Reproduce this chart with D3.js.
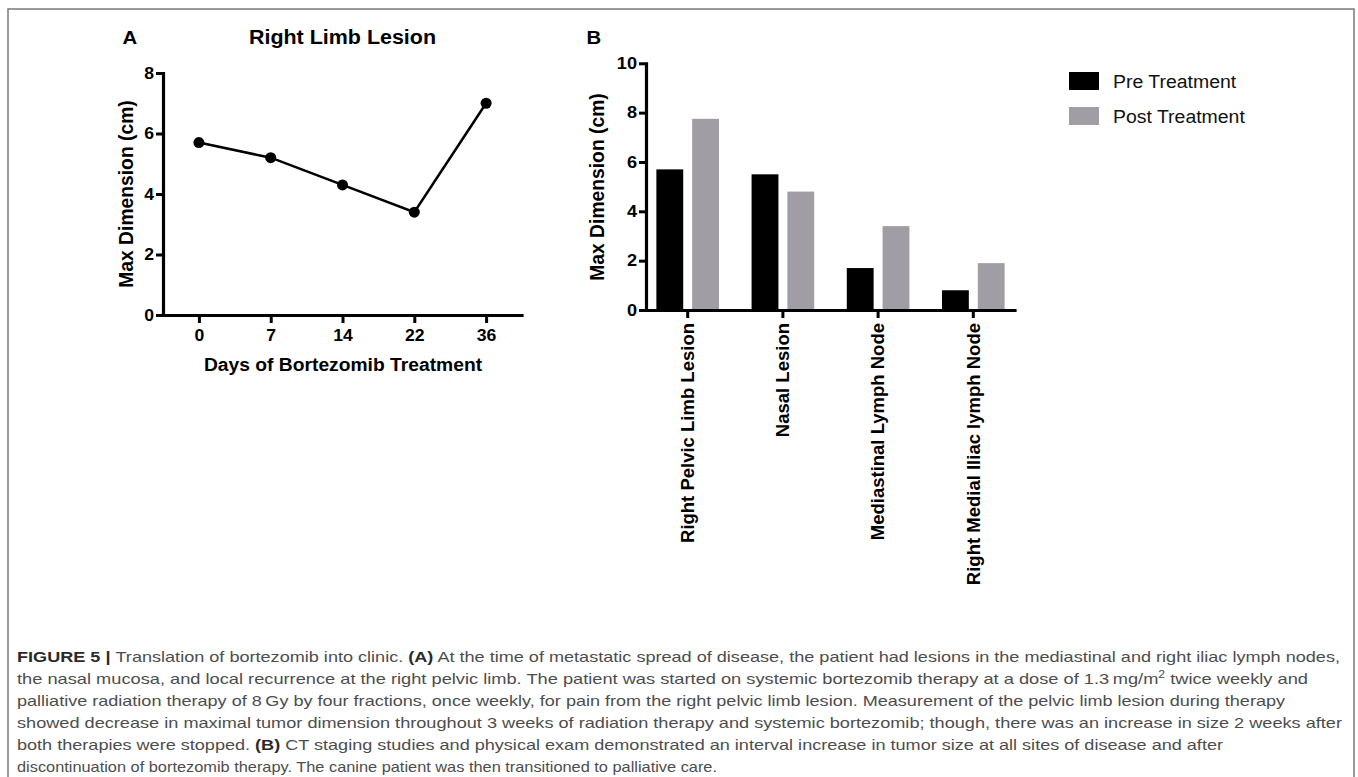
<!DOCTYPE html>
<html>
<head>
<meta charset="utf-8">
<script src="https://cdn.jsdelivr.net/npm/d3@7"></script>
<style>
  body { margin: 0; background: #fff; }
  svg { display: block; font-family: "Liberation Sans", Arial, Helvetica, sans-serif; }
</style>
</head>
<body>
<svg id="fig" width="1358" height="777"></svg>
<script>
// panel A data
var days = ["0", "7", "14", "22", "36"];
var limbSize = [5.7, 5.2, 4.3, 3.4, 7.0];
var ticksA = [0, 2, 4, 6, 8];

// panel B data
var sites = ["Right Pelvic Limb Lesion", "Nasal Lesion", "Mediastinal Lymph Node", "Right Medial Iliac lymph Node"];
var series = ["Pre Treatment", "Post Treatment"];
var preVals = [5.7, 5.5, 1.7, 0.8];
var postVals = [7.75, 4.8, 3.4, 1.9];
var ticksB = [0, 2, 4, 6, 8, 10];
var colors = ["#000000", "#a09ea4"];

// caption, one array per line: [text, bold, superscript]
var caption = [
  [["FIGURE 5 | ", 1], ["Translation of bortezomib into clinic. "], ["(A)", 1], [" At the time of metastatic spread of disease, the patient had lesions in the mediastinal and right iliac lymph nodes,"]],
  [["the nasal mucosa, and local recurrence at the right pelvic limb. The patient was started on systemic bortezomib therapy at a dose of 1.3\u2009mg/m"], ["2", 0, 1], [" twice weekly and"]],
  [["palliative radiation therapy of 8\u2009Gy by four fractions, once weekly, for pain from the right pelvic limb lesion. Measurement of the pelvic limb lesion during therapy"]],
  [["showed decrease in maximal tumor dimension throughout 3 weeks of radiation therapy and systemic bortezomib; though, there was an increase in size 2 weeks after"]],
  [["both therapies were stopped. "], ["(B)", 1], [" CT staging studies and physical exam demonstrated an interval increase in tumor size at all sites of disease and after"]],
  [["discontinuation of bortezomib therapy. The canine patient was then transitioned to palliative care."]]
];
var captionWidths = [1323, 1291, 1268, 1325, 1206, 700];

var svg = d3.select("#fig");

function stretch(sel, k) {
  sel.each(function() {
    var w = this.getComputedTextLength();
    d3.select(this).attr("textLength", w * k).attr("lengthAdjust", "spacingAndGlyphs");
  });
}
function styleAxis(g) {
  g.attr("font-family", null).attr("font-size", null);
  g.selectAll("path.domain").style("stroke-width", "3.2px").style("stroke-linecap", "square");
  g.selectAll(".tick line").style("stroke-width", "3px");
  g.selectAll("text").attr("font-weight", "bold").attr("fill", "#000");
}

// frame
svg.append("rect").attr("x", 8).attr("y", 9).attr("width", 1346).attr("height", 800)
  .attr("fill", "none").attr("stroke", "#7a7a7a").attr("stroke-width", 1.5);

// ---------- panel A ----------
var xA = d3.scalePoint().domain(days).range([163, 522]).padding(0.5);
var yA = d3.scaleLinear().domain([0, 8]).range([315, 73]);

var gA = svg.append("g");
var axAx = gA.append("g").attr("transform", "translate(0,315)")
  .call(d3.axisBottom(xA).tickSizeInner(8).tickSizeOuter(0).tickPadding(7))
  .call(styleAxis);
axAx.selectAll("text").attr("font-size", 16);
axAx.select("path.domain").attr("d", "M163.5,0.5H522");
gA.append("g").attr("transform", "translate(163,0)")
  .call(d3.axisLeft(yA).tickValues(ticksA).tickSizeInner(7).tickSizeOuter(0).tickPadding(2))
  .call(styleAxis)
  .selectAll("text").attr("font-size", 16);
gA.selectAll(".tick text").call(stretch, 1.1);

var line = d3.line().x(function(d, i) { return xA(days[i]); }).y(function(d) { return yA(d); });
gA.append("path").datum(limbSize).attr("d", line)
  .attr("fill", "none").attr("stroke", "#000").attr("stroke-width", 2.5);
gA.selectAll("circle.pt").data(limbSize).enter().append("circle")
  .attr("class", "pt")
  .attr("cx", function(d, i) { return xA(days[i]); })
  .attr("cy", function(d) { return yA(d); })
  .attr("r", 5.5).attr("fill", "#000");

gA.append("text").attr("x", 342.5).attr("y", 43.5).attr("text-anchor", "middle")
  .attr("font-size", 19.5).attr("font-weight", "bold").text("Right Limb Lesion").call(stretch, 1.1);
gA.append("text").attr("x", 122.5).attr("y", 43.5)
  .attr("font-size", 18.5).attr("font-weight", "bold").text("A").call(stretch, 1.1);
gA.append("text").attr("x", 343).attr("y", 370.5).attr("text-anchor", "middle")
  .attr("font-size", 17.5).attr("font-weight", "bold").text("Days of Bortezomib Treatment").call(stretch, 1.1);
gA.append("text").attr("transform", "translate(133,194) rotate(-90)").attr("text-anchor", "middle")
  .attr("font-size", 19.3).attr("font-weight", "bold").text("Max Dimension (cm)");

// ---------- panel B ----------
var x0 = d3.scaleBand().domain(sites).range([646, 1015]).paddingInner(0.342).paddingOuter(0.109);
var x1 = d3.scaleBand().domain(series).range([0, x0.bandwidth()]).paddingInner(0.25);
var yB = d3.scaleLinear().domain([0, 10]).range([310, 63.3]);

var gB = svg.append("g");
var groups = gB.selectAll("g.site").data(sites).enter().append("g")
  .attr("class", "site").attr("transform", function(d) { return "translate(" + x0(d) + ",0)"; });
groups.selectAll("rect").data(function(d, i) { return [preVals[i], postVals[i]]; }).enter().append("rect")
  .attr("x", function(d, j) { return x1(series[j]); })
  .attr("width", x1.bandwidth())
  .attr("y", function(d) { return yB(d); })
  .attr("height", function(d) { return yB(0) - yB(d); })
  .attr("fill", function(d, j) { return colors[j]; });

var axB = gB.append("g").attr("transform", "translate(0,310)")
  .call(d3.axisBottom(x0).tickSizeInner(8).tickSizeOuter(0))
  .call(styleAxis);
axB.select("path.domain").attr("d", "M646.5,0.5H1015");
axB.selectAll("text")
  .attr("transform", "rotate(-90)")
  .attr("text-anchor", "end")
  .attr("x", -13).attr("y", 0).attr("dy", "0.34em")
  .attr("font-size", 18.5);

gB.append("g").attr("transform", "translate(646,0)")
  .call(d3.axisLeft(yB).tickValues(ticksB).tickSizeInner(7).tickSizeOuter(0).tickPadding(2))
  .call(styleAxis)
  .selectAll("text").attr("font-size", 16.5).call(stretch, 1.1);

gB.append("text").attr("x", 586.5).attr("y", 43.5)
  .attr("font-size", 18.5).attr("font-weight", "bold").text("B").call(stretch, 1.1);
gB.append("text").attr("transform", "translate(604,187) rotate(-90)").attr("text-anchor", "middle")
  .attr("font-size", 19.3).attr("font-weight", "bold").text("Max Dimension (cm)");

// legend
var leg = gB.selectAll("g.leg").data(series).enter().append("g")
  .attr("class", "leg").attr("transform", function(d, i) { return "translate(1069," + (72 + i * 35) + ")"; });
leg.append("rect").attr("width", 30).attr("height", 18).attr("fill", function(d, i) { return colors[i]; });
leg.append("text").attr("x", 44).attr("y", 16.3).attr("font-size", 18).attr("fill", "#111")
  .text(function(d) { return d; }).call(stretch, 1.08);

// ---------- caption ----------
var cap = svg.append("g").attr("font-size", 15);
caption.forEach(function(segs, i) {
  var t = cap.append("text").attr("x", 17).attr("y", 661.5 + i * 22.16).attr("fill", "#4d4d4d");
  var lifted = false;
  segs.forEach(function(s) {
    var sp = t.append("tspan").text(s[0]);
    if (s[1]) sp.attr("font-weight", "bold").attr("fill", "#2a2a2a");
    if (s[2]) { sp.attr("font-size", 10).attr("dy", -6); lifted = true; }
    else if (lifted) { sp.attr("dy", 6); lifted = false; }
  });
  t.attr("textLength", captionWidths[i]).attr("lengthAdjust", "spacingAndGlyphs");
});
</script>
</body>
</html>
